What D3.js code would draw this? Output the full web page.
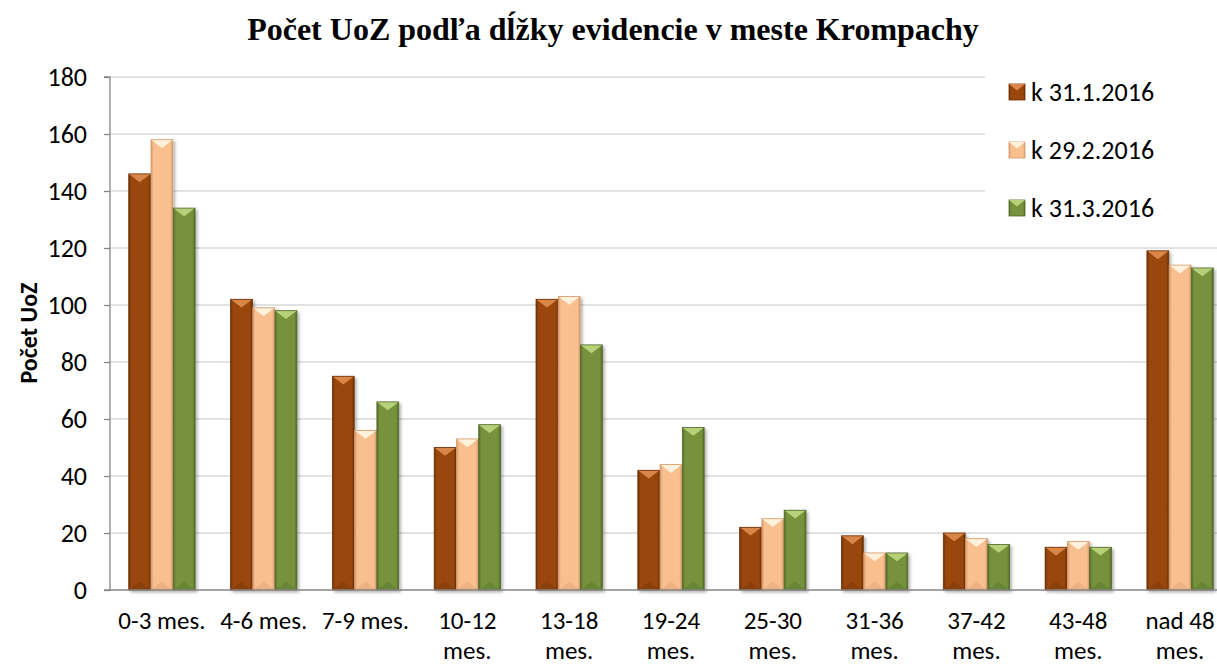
<!DOCTYPE html>
<html><head><meta charset="utf-8">
<script src="https://cdn.jsdelivr.net/npm/d3@7/dist/d3.min.js"></script>
<style>body{margin:0;background:#fff}svg{display:block}</style>
</head><body>
<script>
const categories = ["0-3 mes.","4-6 mes.","7-9 mes.","10-12 mes.","13-18 mes.","19-24 mes.","25-30 mes.","31-36 mes.","37-42 mes.","43-48 mes.","nad 48 mes."];
const categoryLines = [["0-3 mes."],["4-6 mes."],["7-9 mes."],["10-12","mes."],["13-18","mes."],["19-24","mes."],["25-30","mes."],["31-36","mes."],["37-42","mes."],["43-48","mes."],["nad 48","mes."]];
const seriesNames = ["k 31.1.2016","k 29.2.2016","k 31.3.2016"];
const s1 = [146,102,75,50,102,42,22,19,20,15,119];
const s2 = [158,99,56,53,103,44,25,13,18,17,114];
const s3 = [134,98,66,58,86,57,28,13,16,15,113];
const yTicks = [0,20,40,60,80,100,120,140,160,180];
const title = "Počet UoZ podľa dĺžky evidencie v meste Krompachy";
const yLabel = "Počet UoZ";

const series = [s1,s2,s3];
const colors = [
  {base:"#9a470b", light:"#d9874a", dark:"#6e3006"},
  {base:"#f9bf8f", light:"#fff2dc", dark:"#d59a6b"},
  {base:"#76923c", light:"#b7d07a", dark:"#53692a"}
];
const FONT = "Carlito, 'Open Sans', 'Noto Sans', sans-serif";

const W=1217,H=666;
const svg=d3.select("body").append("svg").attr("width",W).attr("height",H);
const defs=svg.append("defs");
colors.forEach((c,i)=>{
  const g=defs.append("linearGradient").attr("id","g"+i).attr("x1","0").attr("x2","1");
  g.append("stop").attr("offset","0").attr("stop-color",c.dark);
  g.append("stop").attr("offset","0.12").attr("stop-color",c.base);
  g.append("stop").attr("offset","0.88").attr("stop-color",c.base);
  g.append("stop").attr("offset","1").attr("stop-color",c.dark);
});
const f=defs.append("filter").attr("id","sh").attr("x","-20%").attr("y","-5%").attr("width","150%").attr("height","115%");
f.append("feDropShadow").attr("dx",2).attr("dy",2).attr("stdDeviation",1.5).attr("flood-color","#000").attr("flood-opacity",0.3);

const x0=d3.scaleBand().domain(categories).range([111,1231]).paddingInner(0.34).paddingOuter(0.17);
const x1=d3.scaleBand().domain([0,1,2]).range([0,x0.bandwidth()]).padding(0.02);
const y=d3.scaleLinear().domain([0,180]).range([590,77]);

// gridlines
svg.append("g").selectAll("line").data(yTicks.filter(d=>d>0)).join("line")
  .attr("x1",111).attr("x2",W).attr("y1",d=>y(d)).attr("y2",d=>y(d))
  .attr("stroke","#d9d9d9").attr("stroke-width",1.3);

// bars
const gb=svg.append("g");
categories.forEach((cat,ci)=>{
  series.forEach((s,si)=>{
    const v=s[ci];
    const bx=x0(cat)+x1(si), bw=x1.bandwidth(), by=y(v), bh=y(0)-y(v);
    const c=colors[si];
    const g=gb.append("g").attr("filter","url(#sh)");
    g.append("rect").attr("x",bx).attr("y",by).attr("width",bw).attr("height",bh).attr("fill","url(#g"+si+")");
    const d=Math.min(bw*0.38,bh/2);
    g.append("path").attr("d",`M${bx},${by}L${bx+bw},${by}L${bx+bw/2},${by+d}Z`).attr("fill",c.light);
    g.append("path").attr("d",`M${bx},${by+bh}L${bx+bw},${by+bh}L${bx+bw/2},${by+bh-d}Z`).attr("fill",c.dark).attr("opacity",0.35);
    g.append("rect").attr("x",bx).attr("y",by).attr("width",bw).attr("height",bh).attr("fill","none").attr("stroke",c.dark).attr("stroke-width",0.8);
  });
});

// axes
const ya=svg.append("g").attr("transform","translate(110,0)")
  .call(d3.axisLeft(y).tickValues(yTicks).tickSize(6).tickPadding(17));
ya.select(".domain").attr("stroke","#868686").attr("stroke-width",1.3).attr("d","M-6,"+y(180)+"H0V"+y(0)+"H-6");
ya.selectAll(".tick line").attr("stroke","#868686").attr("stroke-width",1.3);
ya.selectAll(".tick text").attr("font-family",FONT).attr("font-size",26).attr("fill","#000").attr("dy","0.34em");

svg.append("line").attr("x1",110).attr("x2",W).attr("y1",y(0)).attr("y2",y(0)).attr("stroke","#868686").attr("stroke-width",1.3);

// x labels
const xl=svg.append("g");
categories.forEach((cat,ci)=>{
  const cx=x0(cat)+x0.bandwidth()/2;
  const t=xl.append("text").attr("x",cx).attr("y",629).attr("text-anchor","middle")
    .attr("font-family",FONT).attr("font-size",25).attr("fill","#000");
  categoryLines[ci].forEach((ln,li)=>t.append("tspan").attr("x",cx).attr("dy",li?30:0).text(ln));
});

// title
svg.append("text").attr("x",613).attr("y",40).attr("text-anchor","middle")
  .attr("font-family","'Liberation Serif', 'Times New Roman', serif").attr("font-weight","bold").attr("font-size",32).text(title);

// y label
svg.append("text").attr("transform","translate(37,333) rotate(-90)").attr("text-anchor","middle")
  .attr("font-family",FONT).attr("font-weight","bold").attr("font-size",24).text(yLabel);

// legend
const lg=svg.append("g");
lg.append("rect").attr("x",985).attr("y",68).attr("width",232).attr("height",170).attr("fill","#fff");
seriesNames.forEach((n,i)=>{
  const ly=101+i*58;
  const c=colors[i];
  const sx=1009, sy=ly-17, s=16;
  lg.append("rect").attr("x",sx).attr("y",sy).attr("width",s).attr("height",s).attr("fill","url(#g"+i+")").attr("stroke",c.dark).attr("stroke-width",0.8);
  lg.append("path").attr("d",`M${sx},${sy}L${sx+s},${sy}L${sx+s/2},${sy+s*0.4}Z`).attr("fill",c.light);
  lg.append("text").attr("x",1031).attr("y",ly).attr("font-family",FONT).attr("font-size",26).text(n);
});
</script>
</body></html>
